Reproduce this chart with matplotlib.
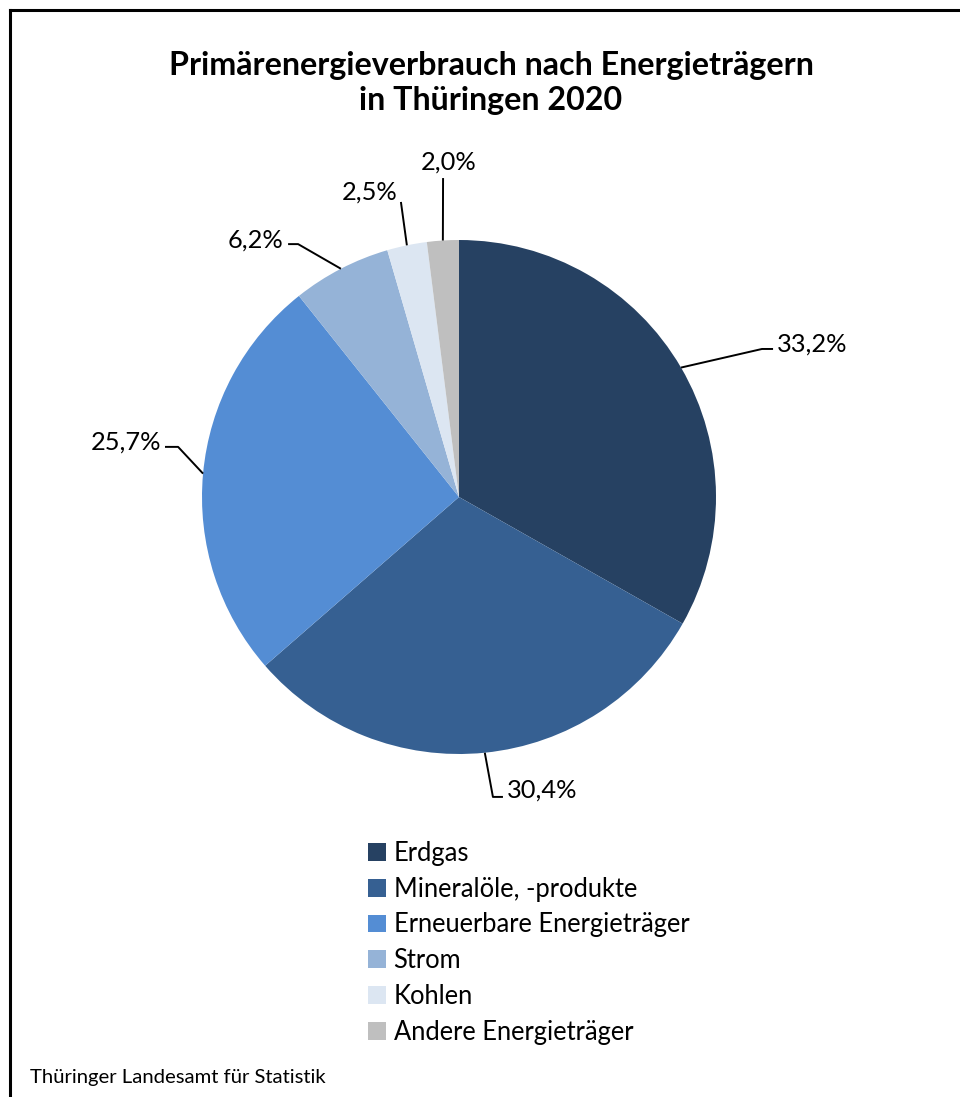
import matplotlib.pyplot as plt
import numpy as np
from matplotlib.lines import Line2D

plt.rcParams['font.family'] = ['Lato', 'DejaVu Sans']

# Data
categories = ['Erdgas', 'Mineralöle, -produkte', 'Erneuerbare Energieträger',
              'Strom', 'Kohlen', 'Andere Energieträger']
shares = [33.2, 30.4, 25.7, 6.2, 2.5, 2.0]
colors = ['#264162', '#366092', '#548DD4', '#95B3D7', '#DCE6F2', '#BFBFBF']

# Leader line layout (in pie radius units): elbow, end of line, text anchor, alignment
label_layout = [
    ((1.179, 0.576), (1.222, 0.576), (1.235, 0.596), 'left'),
    ((0.132, -1.167), (0.171, -1.167), (0.188, -1.140), 'left'),
    ((-1.093, 0.195), (-1.144, 0.195), (-1.160, 0.215), 'right'),
    ((-0.626, 0.984), (-0.665, 0.984), (-0.683, 1.000), 'right'),
    ((-0.226, 1.148), (-0.226, 1.148), (-0.240, 1.185), 'right'),
    ((-0.062, 1.241), (-0.062, 1.241), (-0.040, 1.302), 'center'),
]

fig = plt.figure(figsize=(9.6, 10.97), dpi=100)
ax = fig.add_axes([202 / 960, 343 / 1097, 514 / 960, 514 / 1097])

wedges, _ = ax.pie(shares, colors=colors, startangle=90, counterclock=False,
                   radius=1, wedgeprops=dict(linewidth=0))
ax.set_xlim(-1, 1)
ax.set_ylim(-1, 1)
ax.set_aspect('equal')
ax.axis('off')

for w, val, (elbow, end, txt, ha) in zip(wedges, shares, label_layout):
    ang = np.deg2rad((w.theta1 + w.theta2) / 2)
    ax_pt = (np.cos(ang), np.sin(ang))
    ax.plot([ax_pt[0], elbow[0], end[0]], [ax_pt[1], elbow[1], end[1]],
            color='black', lw=1.4, clip_on=False, solid_capstyle='butt')
    ax.text(txt[0], txt[1], f'{val:.1f}%'.replace('.', ','), ha=ha, va='center',
            fontsize=18.3, color='black')

# Title
fig.text(491 / 960, 1 - 83 / 1097,
         'Primärenergieverbrauch nach Energieträgern\nin Thüringen 2020',
         ha='center', va='center', fontsize=23.2, fontweight='bold', linespacing=1.27)

# Legend
leg = fig.legend(wedges, categories, loc='upper left',
                 bbox_to_anchor=(368 / 960, 1 - 841 / 1097), frameon=False,
                 fontsize=18.4, handlelength=0.7, handleheight=0.7,
                 handletextpad=0.3, labelspacing=0.42, borderpad=0, borderaxespad=0)

# Source
fig.text(30 / 960, 1 - 1077 / 1097, 'Thüringer Landesamt für Statistik',
         ha='left', va='center', fontsize=14.6)

# Frame (left and top edges)
fig.add_artist(Line2D([10 / 960, 10 / 960], [0, 1 - 10 / 1097], color='black', lw=2.2))
fig.add_artist(Line2D([10 / 960, 1], [1 - 10 / 1097, 1 - 10 / 1097], color='black', lw=2.2))

fig.savefig('out.png', dpi=100)
